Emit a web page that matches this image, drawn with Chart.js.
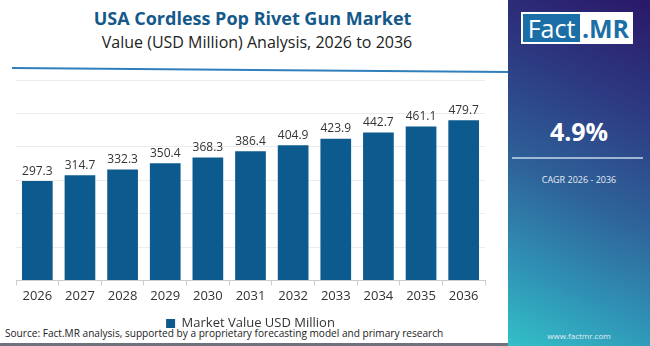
<!DOCTYPE html>
<html>
<head>
<meta charset="utf-8">
<script src="https://cdn.jsdelivr.net/npm/chart.js@4.4.1/dist/chart.umd.min.js"></script>
<style>
  html, body { margin: 0; padding: 0; }
  body { width: 650px; height: 346px; position: relative; overflow: hidden; background: #fff; font-family: "Open Sans", sans-serif; }
  .title { position: absolute; left: 0; width: 505px; text-align: center; top: 6px; font-size: 18px; font-weight: 700; color: #15598b; }
  .subtitle { position: absolute; left: 0; width: 514px; text-align: center; top: 31px; font-size: 16px; color: #222; }
  .rule { position: absolute; left: 12px; top: 67px; width: 497px; height: 2px; background: #2f7fbb; transform: rotate(0.45deg); transform-origin: left center; }
  #wrap { position: absolute; left: 0; top: 60px; width: 505px; height: 280px; }
  .source { position: absolute; left: 5px; top: 326px; font-size: 10.1px; color: #222; white-space: nowrap; }
  .strip { position: absolute; left: 0; top: 343px; width: 508px; height: 3px; background: #6d727c; }
  .panel { position: absolute; left: 508px; top: 0; width: 142px; height: 346px;
    background: linear-gradient(205deg, #2a1868 0%, #2d3a82 28%, #2e6299 55%, #2f8fb4 78%, #33c0c8 100%); }
  .logo { position: absolute; left: 13px; top: 12px; width: 110px; height: 30px; background: #fff; border: 1px solid #fff; }
  .logo .f { position: absolute; left: 1px; top: 1px; width: 57px; height: 28px; background: #1b6fa6; color: #fff; font-size: 25px; line-height: 28px; text-align: center; }
  .logo .m { position: absolute; left: 58px; top: 1px; width: 51px; height: 28px; color: #1b6fa6; font-size: 25px; line-height: 28px; font-weight: 700; text-align: center; }
  .cagr { position: absolute; left: 0; width: 142px; text-align: center; top: 114px; font-size: 25px; font-weight: 700; color: #fff; }
  .cline { position: absolute; left: 4px; top: 157px; width: 131px; height: 2px; background: rgba(210,225,245,0.7); }
  .clab { position: absolute; left: 0; width: 142px; text-align: center; top: 173px; font-size: 9px; color: #e6ecf5; }
  .web { position: absolute; left: 0; width: 142px; text-align: center; top: 330px; font-size: 8px; color: #e6ecf5; }
</style>
</head>
<body>
<div class="title">USA Cordless Pop Rivet Gun Market</div>
<div class="subtitle">Value (USD Million) Analysis, 2026 to 2036</div>
<div class="rule"></div>
<div class="source">Source: Fact.MR analysis, supported by a proprietary forecasting model and primary research</div>
<div id="wrap"><canvas id="chart"></canvas></div>
<div class="strip"></div>
<div class="panel">
  <div class="logo"><div class="f">Fact</div><div class="m">.MR</div></div>
  <div class="cagr">4.9%</div>
  <div class="cline"></div>
  <div class="clab">CAGR 2026 - 2036</div>
  <div class="web">www.factmr.com</div>
</div>
<script>
const years = ['2026', '2027', '2028', '2029', '2030', '2031', '2032', '2033', '2034', '2035', '2036'];
const marketValue = [297.3, 314.7, 332.3, 350.4, 368.3, 386.4, 404.9, 423.9, 442.7, 461.1, 479.7];
const yTicks = [0, 100, 200, 300, 400, 500, 600];

// value text above each bar
const barLabels = {
  id: 'barLabels',
  afterDatasetsDraw(chart) {
    const ctx = chart.ctx;
    const meta = chart.getDatasetMeta(0);
    ctx.save();
    ctx.font = '12px "Open Sans", sans-serif';
    ctx.fillStyle = '#333';
    ctx.textAlign = 'center';
    ctx.textBaseline = 'bottom';
    meta.data.forEach((bar, i) => {
      ctx.fillText(marketValue[i].toFixed(1), bar.x, bar.y - 4);
    });
    ctx.restore();
  }
};

new Chart(document.getElementById('chart'), {
  type: 'bar',
  data: {
    labels: years,
    datasets: [{
      label: 'Market Value USD Million',
      data: marketValue,
      backgroundColor: '#0c5a8e',
      borderWidth: 0,
      barPercentage: 0.72,
      categoryPercentage: 1
    }]
  },
  options: {
    responsive: true,
    maintainAspectRatio: false,
    animation: false,
    layout: { padding: { left: 16, right: 20, top: 20, bottom: 0 } },
    scales: {
      x: {
        grid: { display: true, drawOnChartArea: false, drawTicks: true, tickLength: 5, color: '#ccc' },
        border: { color: '#ccc' },
        ticks: { color: '#333', font: { size: 13, family: '"Open Sans", sans-serif' }, padding: 3 }
      },
      y: {
        min: 0,
        max: 600,
        afterBuildTicks: axis => { axis.ticks = yTicks.map(v => ({ value: v })); },
        grid: { color: '#ececec', drawTicks: false },
        border: { display: false },
        ticks: { display: false }
      }
    },
    plugins: {
      legend: {
        position: 'bottom',
        labels: { boxWidth: 9, boxHeight: 9, color: '#333', font: { size: 13, family: '"Open Sans", sans-serif' }, padding: 10 }
      },
      tooltip: { enabled: false }
    }
  },
  plugins: [barLabels]
});
</script>
</body>
</html>
